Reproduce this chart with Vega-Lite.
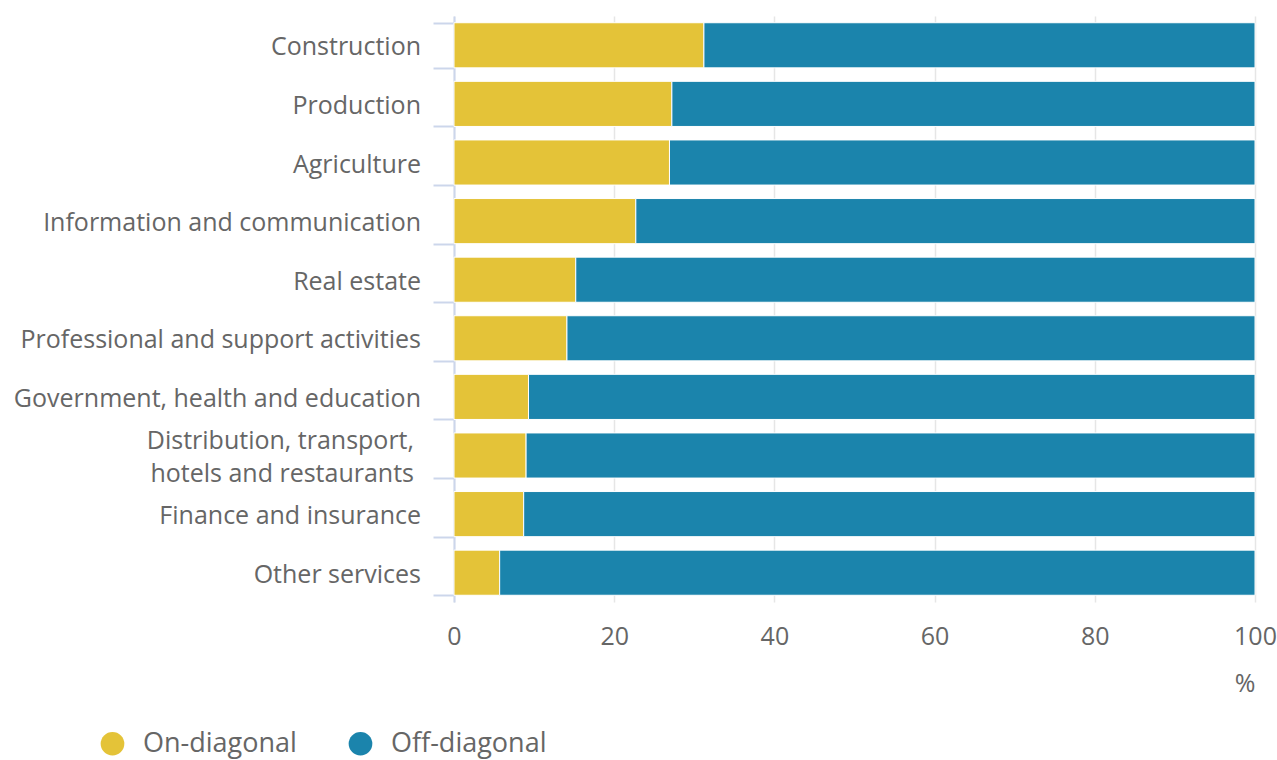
{
  "$schema": "https://vega.github.io/schema/vega-lite/v6.json",
  "autosize": {"type": "none"},
  "padding": {"left": 454, "top": 16, "right": 22, "bottom": 158},
  "width": 801,
  "height": 586,
  "background": "white",
  "config": {
    "font": "Open Sans",
    "view": {"stroke": null}
  },
  "data": {
    "values": [
      {"sector": "Construction", "type": "On-diagonal", "value": 31.2, "ord": 1},
      {"sector": "Construction", "type": "Off-diagonal", "value": 68.8, "ord": 2},
      {"sector": "Production", "type": "On-diagonal", "value": 27.2, "ord": 1},
      {"sector": "Production", "type": "Off-diagonal", "value": 72.8, "ord": 2},
      {"sector": "Agriculture", "type": "On-diagonal", "value": 26.9, "ord": 1},
      {"sector": "Agriculture", "type": "Off-diagonal", "value": 73.1, "ord": 2},
      {"sector": "Information and communication", "type": "On-diagonal", "value": 22.7, "ord": 1},
      {"sector": "Information and communication", "type": "Off-diagonal", "value": 77.3, "ord": 2},
      {"sector": "Real estate", "type": "On-diagonal", "value": 15.2, "ord": 1},
      {"sector": "Real estate", "type": "Off-diagonal", "value": 84.8, "ord": 2},
      {"sector": "Professional and support activities", "type": "On-diagonal", "value": 14.1, "ord": 1},
      {"sector": "Professional and support activities", "type": "Off-diagonal", "value": 85.9, "ord": 2},
      {"sector": "Government, health and education", "type": "On-diagonal", "value": 9.3, "ord": 1},
      {"sector": "Government, health and education", "type": "Off-diagonal", "value": 90.7, "ord": 2},
      {"sector": "Distribution, transport,|hotels and restaurants", "type": "On-diagonal", "value": 9.0, "ord": 1},
      {"sector": "Distribution, transport,|hotels and restaurants", "type": "Off-diagonal", "value": 91.0, "ord": 2},
      {"sector": "Finance and insurance", "type": "On-diagonal", "value": 8.7, "ord": 1},
      {"sector": "Finance and insurance", "type": "Off-diagonal", "value": 91.3, "ord": 2},
      {"sector": "Other services", "type": "On-diagonal", "value": 5.7, "ord": 1},
      {"sector": "Other services", "type": "Off-diagonal", "value": 94.3, "ord": 2}
    ]
  },
  "layer": [
    {
      "mark": {"type": "bar", "stroke": "white", "strokeWidth": 1},
      "encoding": {
        "y": {
          "field": "sector",
          "type": "nominal",
          "sort": null,
          "scale": {"paddingInner": 0.23, "paddingOuter": 0.115},
          "axis": {
            "title": null,
            "labels": false,
            "domainColor": "#ccd6eb",
            "domainWidth": 2,
            "tickColor": "#ccd6eb",
            "tickWidth": 2,
            "tickSize": 21,
            "tickBand": "extent",
            "grid": false
          }
        },
        "x": {
          "field": "value",
          "type": "quantitative",
          "stack": "zero",
          "scale": {"domain": [0, 100], "nice": false},
          "axis": {
            "title": "%",
            "titleFontSize": 25,
            "titleFontWeight": "normal",
            "titleColor": "#666666",
            "titleAnchor": "end",
            "titleAlign": "right",
            "titlePadding": 22,
            "values": [0, 20, 40, 60, 80, 100],
            "labelFontSize": 25,
            "labelColor": "#666666",
            "labelPadding": 22,
            "labelFlush": false,
            "domain": false,
            "ticks": false,
            "grid": true,
            "gridColor": "#e6e6e6",
            "gridWidth": 1.5
          }
        },
        "color": {
          "field": "type",
          "type": "nominal",
          "sort": ["On-diagonal", "Off-diagonal"],
          "scale": {"domain": ["On-diagonal", "Off-diagonal"], "range": ["#e4c338", "#1b84ac"]},
          "legend": {
            "title": null,
            "orient": "none",
            "direction": "horizontal",
            "legendX": -355,
            "legendY": 714,
            "symbolType": "circle",
            "symbolSize": 560,
            "symbolStrokeWidth": 0,
            "symbolOpacity": 1,
            "labelFontSize": 27,
            "labelColor": "#666666",
            "labelOffset": 17,
            "columnPadding": 50
          }
        },
        "order": {"field": "ord", "type": "quantitative"}
      }
    },
    {
      "transform": [
        {"filter": "datum.type == 'On-diagonal' && indexof(datum.sector, '|') < 0"}
      ],
      "mark": {"type": "text", "align": "right", "baseline": "middle", "dx": -33, "dy": 2, "fontSize": 25, "color": "#666666"},
      "encoding": {
        "y": {"field": "sector", "type": "nominal", "sort": null},
        "x": {"datum": 0},
        "text": {"field": "sector"}
      }
    },
    {
      "transform": [
        {"filter": "datum.type == 'On-diagonal' && indexof(datum.sector, '|') >= 0"}
      ],
      "mark": {"type": "text", "align": "right", "baseline": "middle", "dx": -40, "dy": -15, "fontSize": 25, "lineHeight": 33, "lineBreak": "|", "color": "#666666"},
      "encoding": {
        "y": {"field": "sector", "type": "nominal", "sort": null},
        "x": {"datum": 0},
        "text": {"field": "sector"}
      }
    }
  ]
}
